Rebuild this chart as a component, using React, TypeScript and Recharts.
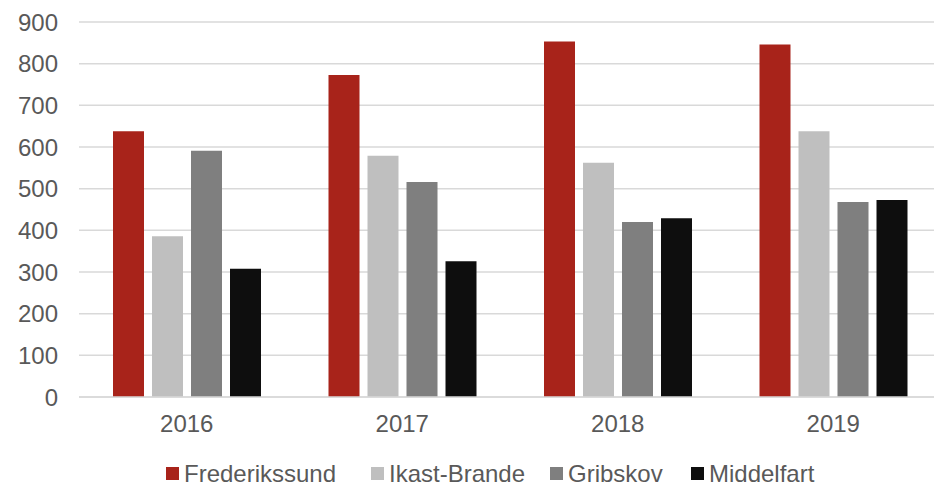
import React from "react";
import { BarChart, Bar, XAxis, YAxis, CartesianGrid, Legend } from "recharts";

const years = ["2016", "2017", "2018", "2019"];
const frederikssund = [638, 773, 853, 846];
const ikastBrande = [386, 579, 562, 638];
const gribskov = [591, 516, 420, 468];
const middelfart = [308, 326, 429, 473];
const yTicks = [0, 100, 200, 300, 400, 500, 600, 700, 800, 900];

const series = [
  { key: "Frederikssund", color: "#A8231A", left: 166 },
  { key: "Ikast-Brande", color: "#BFBFBF", left: 371 },
  { key: "Gribskov", color: "#7F7F7F", left: 550 },
  { key: "Middelfart", color: "#0E0E0E", left: 691 },
];

const data = years.map((year, i) => ({
  year,
  Frederikssund: frederikssund[i],
  "Ikast-Brande": ikastBrande[i],
  Gribskov: gribskov[i],
  Middelfart: middelfart[i],
}));

const font = "'Liberation Sans', Arial, sans-serif";

// legend drawn by hand so the spacing matches the original
const LegendContent = () => (
  <div
    style={{
      position: "relative",
      marginTop: 13,
      height: 27,
      fontFamily: font,
      fontSize: 24,
      lineHeight: "27px",
      color: "#595959",
    }}
  >
    {series.map((s) => (
      <div
        key={s.key}
        style={{ position: "absolute", left: s.left, top: 0, height: 27, display: "flex", alignItems: "center", whiteSpace: "nowrap" }}
      >
        <span style={{ width: 13, height: 13, background: s.color, marginRight: 5, display: "inline-block" }} />
        <span>{s.key}</span>
      </div>
    ))}
  </div>
);

export default function App() {
  return (
    <div style={{ position: "absolute", left: 0, top: 0, width: 934, height: 487, overflow: "hidden", background: "#fff" }}>
      <BarChart
        width={941}
        height={487}
        data={data}
        margin={{ top: 22, right: 0, left: 0, bottom: 0 }}
        barGap={8}
        barSize={31}
      >
        <CartesianGrid vertical={false} stroke="#D9D9D9" strokeWidth={1.5} />
        <XAxis
          dataKey="year"
          axisLine={{ stroke: "#D9D9D9", strokeWidth: 1.5 }}
          tickLine={false}
          tickMargin={12}
          height={50}
          tick={{ fill: "#595959", fontSize: 24, fontFamily: font }}
        />
        <YAxis
          domain={[0, 900]}
          ticks={yTicks}
          axisLine={false}
          tickLine={false}
          width={79}
          tickMargin={15}
          tick={{ fill: "#595959", fontSize: 24, fontFamily: font }}
        />
        <Legend
          verticalAlign="bottom"
          height={40}
          wrapperStyle={{ left: 0, width: 934 }}
          content={<LegendContent />}
        />
        {series.map((s) => (
          <Bar key={s.key} dataKey={s.key} fill={s.color} isAnimationActive={false} />
        ))}
      </BarChart>
    </div>
  );
}
